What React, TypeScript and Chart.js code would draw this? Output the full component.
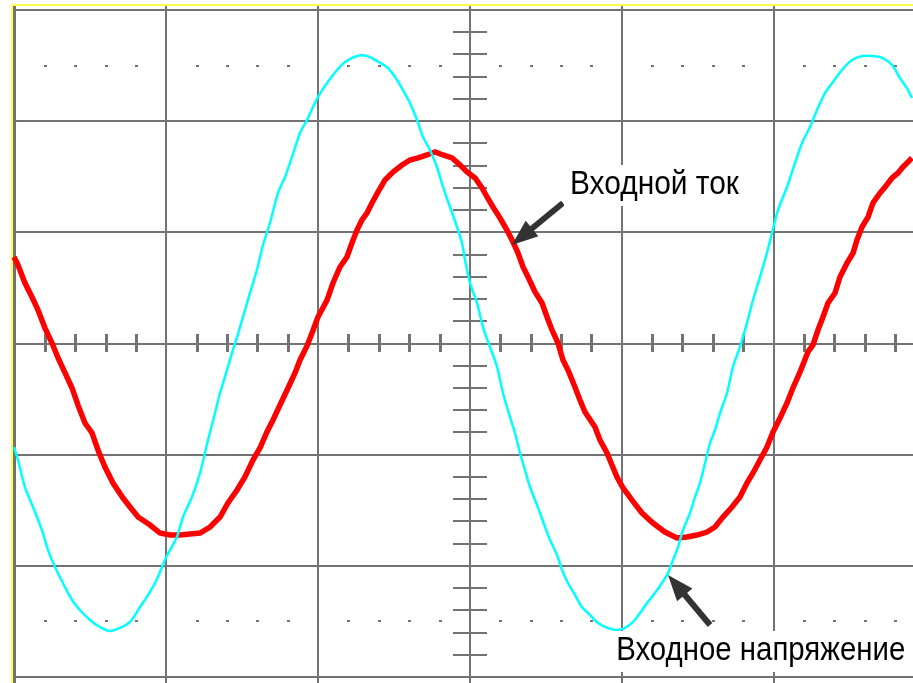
import React, { useEffect, useRef } from "react";
import { Chart, registerables } from "chart.js";

Chart.register(...registerables);

// ---- data (x in screen divisions from centre, y in vertical divisions) ----
const voltageTime = [
  -3.003, -2.977, -2.931, -2.878, -2.819, -2.779, -2.733, -2.681, -2.621, -2.569,
  -2.503, -2.437, -2.371, -2.305, -2.239, -2.173, -2.107, -2.055, -2.009, -1.976,
  -1.930, -1.890, -1.831, -1.778, -1.725, -1.679, -1.646, -1.600, -1.561, -1.534,
  -1.495, -1.449, -1.403, -1.363, -1.317, -1.264, -1.218, -1.172, -1.119, -1.073,
  -1.034, -1.001, -0.941, -0.875, -0.823, -0.744, -0.678, -0.612, -0.540, -0.480,
  -0.441, -0.395, -0.348, -0.309, -0.263, -0.217, -0.177, -0.131, -0.085, -0.052,
  -0.032, 0.001, 0.047, 0.086, 0.132, 0.179, 0.218, 0.264, 0.297, 0.330,
  0.363, 0.396, 0.429, 0.462, 0.495, 0.528, 0.574, 0.607, 0.646, 0.692,
  0.738, 0.791, 0.844, 0.910, 0.969, 1.022, 1.074, 1.121, 1.167, 1.219,
  1.265, 1.305, 1.338, 1.371, 1.404, 1.450, 1.483, 1.516, 1.549, 1.582,
  1.615, 1.648, 1.694, 1.733, 1.779, 1.825, 1.865, 1.911, 1.957, 1.990,
  2.030, 2.089, 2.142, 2.188, 2.240, 2.287, 2.339, 2.392, 2.451, 2.517,
  2.583, 2.655, 2.721, 2.781, 2.833, 2.879, 2.912,
];
const voltageLevel = [
  -0.931, -1.048, -1.291, -1.471, -1.678, -1.858, -2.010, -2.154, -2.307, -2.397,
  -2.487, -2.550, -2.586, -2.559, -2.505, -2.370, -2.235, -2.100, -1.947, -1.858,
  -1.741, -1.561, -1.381, -1.165, -0.868, -0.625, -0.445, -0.238, -0.058, 0.058,
  0.238, 0.454, 0.661, 0.886, 1.084, 1.354, 1.498, 1.678, 1.894, 2.010,
  2.127, 2.217, 2.343, 2.460, 2.532, 2.586, 2.586, 2.541, 2.478, 2.370,
  2.280, 2.163, 2.010, 1.858, 1.741, 1.588, 1.408, 1.228, 1.048, 0.904,
  0.751, 0.544, 0.364, 0.148, -0.031, -0.211, -0.445, -0.661, -0.805, -0.985,
  -1.138, -1.291, -1.408, -1.525, -1.651, -1.768, -1.903, -2.037, -2.154, -2.262,
  -2.370, -2.442, -2.514, -2.559, -2.577, -2.559, -2.505, -2.424, -2.334, -2.244,
  -2.154, -2.064, -1.947, -1.831, -1.678, -1.525, -1.381, -1.255, -1.075, -0.895,
  -0.778, -0.625, -0.445, -0.211, -0.031, 0.184, 0.391, 0.598, 0.814, 0.994,
  1.201, 1.408, 1.624, 1.804, 1.947, 2.100, 2.253, 2.352, 2.460, 2.550,
  2.586, 2.586, 2.568, 2.505, 2.388, 2.298, 2.208,
];
const currentTime = [
  -3.003, -2.977, -2.931, -2.885, -2.845, -2.799, -2.753, -2.713, -2.667, -2.621,
  -2.582, -2.536, -2.489, -2.450, -2.404, -2.351, -2.285, -2.239, -2.186, -2.107,
  -2.042, -1.976, -1.910, -1.844, -1.778, -1.712, -1.646, -1.594, -1.534, -1.482,
  -1.429, -1.383, -1.337, -1.297, -1.251, -1.198, -1.152, -1.119, -1.073, -1.040,
  -1.001, -0.941, -0.902, -0.856, -0.810, -0.777, -0.744, -0.711, -0.678, -0.645,
  -0.605, -0.559, -0.507, -0.447, -0.395, -0.342, -0.283, -0.230, -0.177, -0.118,
  -0.065, -0.019, 0.034, 0.080, 0.113, 0.152, 0.198, 0.244, 0.284, 0.317,
  0.350, 0.383, 0.429, 0.475, 0.508, 0.541, 0.580, 0.613, 0.646, 0.692,
  0.725, 0.758, 0.824, 0.857, 0.903, 0.936, 0.969, 1.009, 1.068, 1.134,
  1.206, 1.285, 1.364, 1.430, 1.496, 1.562, 1.615, 1.667, 1.727, 1.779,
  1.825, 1.865, 1.911, 1.957, 1.997, 2.043, 2.089, 2.128, 2.175, 2.227,
  2.260, 2.293, 2.326, 2.359, 2.405, 2.438, 2.484, 2.524, 2.550, 2.583,
  2.623, 2.655, 2.702, 2.735, 2.781, 2.820, 2.853, 2.886, 2.912,
];
const currentLevel = [
  0.778, 0.706, 0.544, 0.418, 0.301, 0.139, 0.004, -0.130, -0.265, -0.400,
  -0.553, -0.715, -0.805, -0.958, -1.111, -1.255, -1.390, -1.471, -1.561, -1.633,
  -1.705, -1.723, -1.723, -1.714, -1.705, -1.651, -1.561, -1.435, -1.318, -1.201,
  -1.048, -0.940, -0.796, -0.688, -0.553, -0.400, -0.265, -0.148, -0.022, 0.094,
  0.238, 0.391, 0.544, 0.688, 0.778, 0.904, 1.021, 1.111, 1.174, 1.264,
  1.363, 1.471, 1.543, 1.606, 1.651, 1.669, 1.696, 1.723, 1.696, 1.669,
  1.606, 1.543, 1.489, 1.399, 1.318, 1.228, 1.129, 1.021, 0.913, 0.814,
  0.688, 0.598, 0.463, 0.364, 0.238, 0.121, 0.004, -0.148, -0.238, -0.391,
  -0.508, -0.616, -0.751, -0.868, -0.985, -1.093, -1.201, -1.300, -1.408, -1.525,
  -1.615, -1.696, -1.750, -1.741, -1.723, -1.696, -1.651, -1.561, -1.471, -1.381,
  -1.255, -1.165, -1.048, -0.931, -0.796, -0.670, -0.535, -0.400, -0.256, -0.076,
  -0.013, 0.121, 0.238, 0.364, 0.454, 0.598, 0.724, 0.814, 0.931, 1.048,
  1.138, 1.264, 1.354, 1.408, 1.489, 1.534, 1.588, 1.633, 1.669,
];

// graticule (in divisions)
const gridX = [-3, -2, -1, 0, 1, 2];
const gridY = [-3, -2, -1, 0, 1, 2, 3];
const dottedRows = [2.5, -2.5];
const minorPerDiv = 5;

// annotations (positions in divisions)
const currentNoteText = "Входной ток";
const currentNoteTip = [0.277, 0.886];
const currentNoteTail = [0.613, 1.264];
const currentNoteAt = [0.659, 1.345];
const voltageNoteText = "Входное напряжение";
const voltageNoteTip = [1.305, -2.082];
const voltageNoteTail = [1.582, -2.532];
const voltageNoteAt = [0.964, -2.847];

// ---- styles ----
const W = 913;
const H = 683;
const GRAY = "#737373";
const YELLOW = "#ffff4d";
const ARROW = "#333333";
const FONT = '34px "Liberation Sans", Arial, sans-serif';
const notes = [
  { text: currentNoteText, tip: currentNoteTip, tail: currentNoteTail, at: currentNoteAt, width: 169 },
  { text: voltageNoteText, tip: voltageNoteTip, tail: voltageNoteTail, at: voltageNoteAt, width: 289 },
];

const scopePlugin = {
  id: "scope",
  beforeDatasetsDraw(chart: any) {
    const { ctx } = chart;
    const x = chart.scales.x;
    const y = chart.scales.y;
    const x0 = x.getPixelForValue(gridX[0]);
    const y0 = y.getPixelForValue(gridY[gridY.length - 1]);
    const cx = Math.round(x.getPixelForValue(0));
    const cy = Math.round(y.getPixelForValue(0));
    ctx.save();
    ctx.fillStyle = "#ffffff";
    ctx.fillRect(0, 0, W, H);
    // yellow frame
    ctx.fillStyle = YELLOW;
    ctx.fillRect(Math.round(x0 - 3.5), Math.round(y0 - 6), W, 2);
    ctx.fillRect(Math.round(x0 - 3.5), Math.round(y0 - 6), 2, H);
    ctx.fillStyle = GRAY;
    // vertical lines
    gridX.forEach((v, i) => {
      const px = x.getPixelForValue(v);
      if (i === 0) ctx.fillRect(Math.round(px - 1.5), Math.round(y0 - 4), 3, H);
      else ctx.fillRect(Math.round(px) - 1, Math.round(y0 - 4), 2, H);
    });
    // horizontal lines
    gridY.forEach((v) => {
      const py = Math.round(y.getPixelForValue(v));
      ctx.fillRect(Math.round(x0 - 1.5), py - 1, W, 2);
    });
    // centre axis ticks
    const step = 1 / minorPerDiv;
    for (let k = Math.ceil(x.min / step); k * step <= x.max; k++) {
      if (k % minorPerDiv === 0) continue;
      const px = Math.round(x.getPixelForValue(k * step));
      ctx.fillRect(px - 1, cy - 10, 3, 18);
    }
    for (let k = Math.ceil(y.min / step); k * step <= y.max + 1e-9; k++) {
      if (k % minorPerDiv === 0) continue;
      const py = Math.round(y.getPixelForValue(k * step));
      ctx.fillRect(cx - 17, py - 1, 34, 2);
    }
    // dotted rows
    dottedRows.forEach((r) => {
      const py = Math.round(y.getPixelForValue(r));
      for (let k = Math.ceil(x.min / step); k * step <= x.max; k++) {
        if (k % minorPerDiv === 0) continue;
        const px = Math.round(x.getPixelForValue(k * step));
        ctx.fillRect(px - 1, py - 1, 3, 2);
      }
    });
    ctx.restore();
  },
  afterDatasetsDraw(chart: any) {
    const { ctx } = chart;
    const x = chart.scales.x;
    const y = chart.scales.y;
    ctx.save();
    notes.forEach((n) => {
      // arrow
      const tx = x.getPixelForValue(n.tip[0]);
      const ty = y.getPixelForValue(n.tip[1]);
      const sx = x.getPixelForValue(n.tail[0]);
      const sy = y.getPixelForValue(n.tail[1]);
      const ang = Math.atan2(ty - sy, tx - sx);
      const headLen = 26;
      const headHalf = 10;
      const bx = tx - headLen * Math.cos(ang);
      const by = ty - headLen * Math.sin(ang);
      ctx.strokeStyle = ARROW;
      ctx.fillStyle = ARROW;
      ctx.lineWidth = 6;
      ctx.lineCap = "butt";
      ctx.beginPath();
      ctx.moveTo(sx, sy);
      ctx.lineTo(bx + 4 * Math.cos(ang), by + 4 * Math.sin(ang));
      ctx.stroke();
      ctx.beginPath();
      ctx.moveTo(tx, ty);
      ctx.lineTo(bx + headHalf * Math.sin(ang), by - headHalf * Math.cos(ang));
      ctx.lineTo(bx - headHalf * Math.sin(ang), by + headHalf * Math.cos(ang));
      ctx.closePath();
      ctx.fill();
      // label with white backing
      const lx = x.getPixelForValue(n.at[0]);
      const ly = y.getPixelForValue(n.at[1]);
      ctx.fillStyle = "#ffffff";
      ctx.fillRect(lx - 6, ly - 29, n.width + 12, 41);
      ctx.font = FONT;
      const mw = ctx.measureText(n.text).width;
      ctx.save();
      ctx.translate(lx, ly);
      ctx.scale(n.width / mw, 1);
      ctx.fillStyle = "#000000";
      ctx.textBaseline = "alphabetic";
      ctx.textAlign = "left";
      ctx.fillText(n.text, 0, 0);
      ctx.restore();
    });
    ctx.restore();
  },
};

export default function App() {
  const ref = useRef<HTMLCanvasElement | null>(null);
  useEffect(() => {
    if (!ref.current) return;
    const left = 14.5;
    const top = 10;
    const bottom = 6;
    const pxPerDiv = 151.8;
    const chart = new Chart(ref.current, {
      type: "line",
      data: {
        datasets: [
          {
            label: "Входное напряжение",
            data: voltageTime.map((t, i) => ({ x: t, y: voltageLevel[i] })),
            borderColor: "#00ffff",
            borderWidth: 2.5,
            pointRadius: 0,
            tension: 0.3,
            clip: false as any,
          },
          {
            label: "Входной ток",
            data: currentTime.map((t, i) => ({ x: t, y: currentLevel[i] })),
            borderColor: "#ff0000",
            borderWidth: 5.5,
            pointRadius: 0,
            tension: 0,
            clip: false as any,
          },
        ],
      },
      options: {
        responsive: false,
        animation: false,
        devicePixelRatio: 1,
        layout: { padding: { left, top, right: 0, bottom } },
        scales: {
          x: {
            type: "linear",
            display: false,
            min: gridX[0],
            max: gridX[0] + (W - left) / pxPerDiv,
          },
          y: {
            type: "linear",
            display: false,
            min: gridY[0],
            max: gridY[gridY.length - 1],
          },
        },
        plugins: {
          legend: { display: false },
          tooltip: { enabled: false },
        },
        events: [],
      },
      plugins: [scopePlugin],
    });
    return () => chart.destroy();
  }, []);
  return (
    <div style={{ position: "fixed", left: 0, top: 0, width: W, height: H, background: "#fff" }}>
      <canvas ref={ref} width={W} height={H} style={{ display: "block" }} />
    </div>
  );
}
